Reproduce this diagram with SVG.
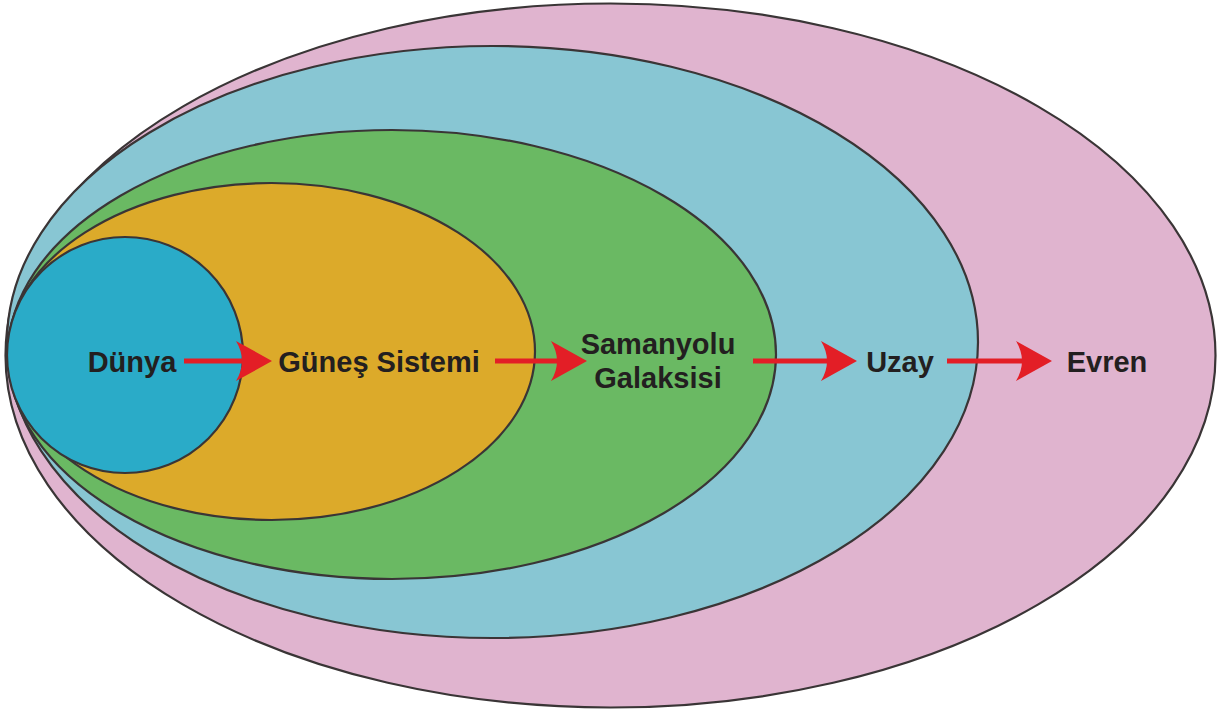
<svg xmlns="http://www.w3.org/2000/svg" width="1222" height="713" viewBox="0 0 1222 713">
<style>
.e{stroke:#3a3536;stroke-width:2.2}
.t{font-family:"Liberation Sans",Arial,sans-serif;font-weight:bold;font-size:29px;fill:#231f20;text-anchor:middle}
.ln{stroke:#e31e26;stroke-width:5;fill:none}
.hd{fill:#e31e26}
</style>
<defs>
<path id="head" d="M0 0 L-36 -20 Q-24 0 -36 20 Z"/>
</defs>
<rect width="1222" height="713" fill="#fff"/>
<g id="evren"><ellipse class="e" cx="610.5" cy="355.5" rx="605" ry="352" fill="#e0b4cf"/><text class="t" x="1107" y="372">Evren</text></g>
<g id="uzay"><ellipse class="e" cx="492.5" cy="342" rx="485.5" ry="296" fill="#88c6d3"/><text class="t" x="900" y="372">Uzay</text></g>
<g id="samanyolu"><ellipse class="e" cx="392" cy="354.5" rx="384" ry="224.5" fill="#6ab963"/><text class="t" x="658" y="354">Samanyolu</text><text class="t" x="658" y="388">Galaksisi</text></g>
<g id="gunes"><ellipse class="e" cx="271.5" cy="351.5" rx="263.5" ry="168.5" fill="#dcaa2a"/><text class="t" x="379" y="372">Güneş Sistemi</text></g>
<g id="dunya"><ellipse class="e" cx="125" cy="355" rx="118" ry="118" fill="#2aabc8"/><text class="t" x="132" y="372">Dünya</text></g>
<g id="connectors">
<line class="ln" x1="184" y1="361" x2="250" y2="361"/><use href="#head" class="hd" transform="translate(272 361)"/>
<line class="ln" x1="495" y1="361" x2="565" y2="361"/><use href="#head" class="hd" transform="translate(587 361)"/>
<line class="ln" x1="753" y1="361" x2="835" y2="361"/><use href="#head" class="hd" transform="translate(857 361)"/>
<line class="ln" x1="947" y1="361" x2="1030" y2="361"/><use href="#head" class="hd" transform="translate(1052 361)"/>
</g>
</svg>
